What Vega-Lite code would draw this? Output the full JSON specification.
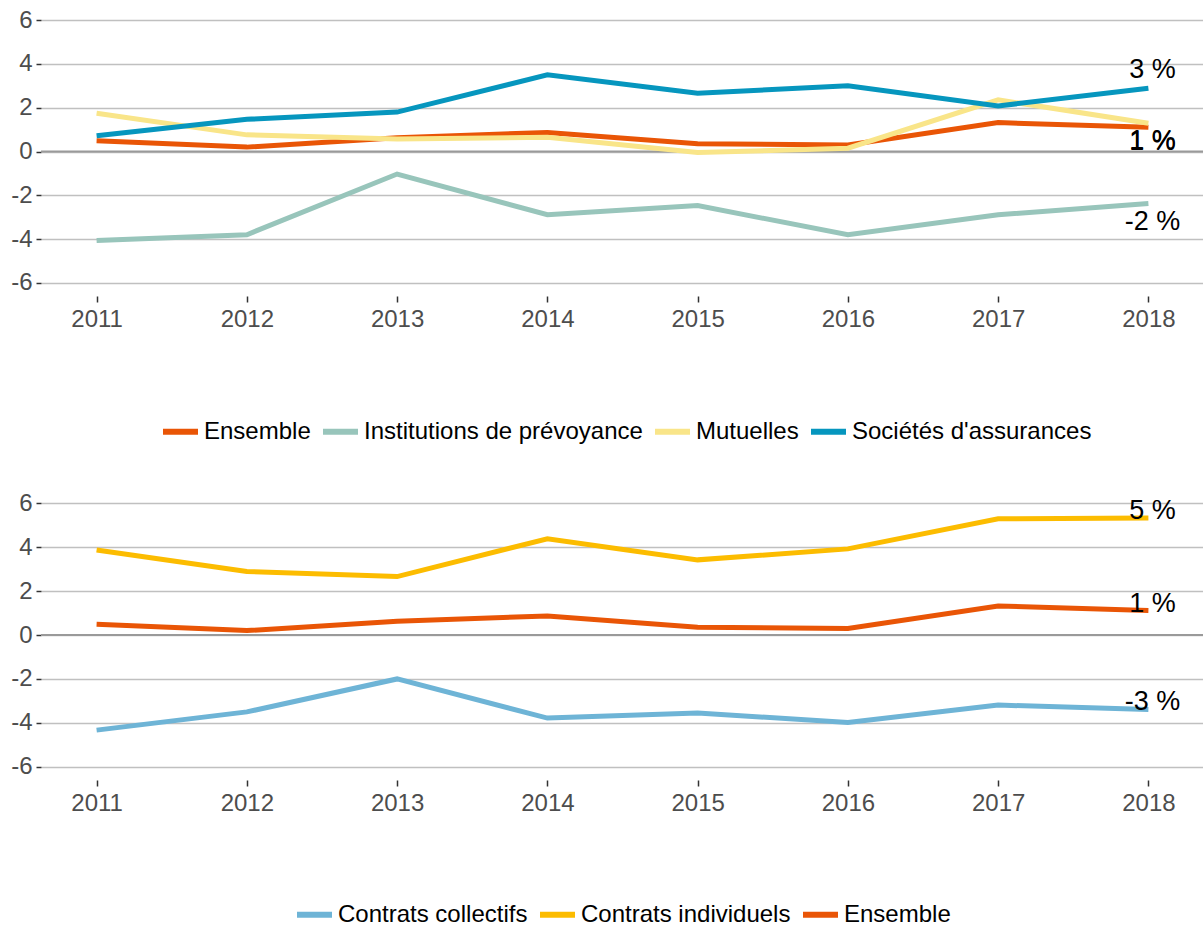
{
  "$schema": "https://vega.github.io/schema/vega-lite/v6.json",
  "padding": {"left": 10, "top": 7, "right": 0, "bottom": 0},
  "background": "white",
  "bounds": "flush",
  "spacing": 194,
  "config": {
    "view": {"stroke": null},
    "font": "Liberation Sans",
    "axis": {
      "labelFont": "Liberation Sans",
      "labelFontSize": 24,
      "labelColor": "#4d4d4d",
      "tickColor": "#333333",
      "tickWidth": 1.5,
      "domain": false,
      "title": null
    },
    "axisY": {"grid": true, "gridColor": "#c0c0c0", "gridWidth": 1.7, "tickSize": 5, "labelPadding": 4},
    "axisX": {"grid": false, "tickSize": 6, "labelPadding": 5},
    "legend": {
      "orient": "none",
      "direction": "horizontal",
      "title": null,
      "symbolType": "stroke",
      "symbolSize": 1225,
      "symbolStrokeWidth": 6,
      "labelFont": "Liberation Sans",
      "labelFontSize": 24,
      "labelColor": "#000000",
      "labelOffset": 3,
      "columnPadding": 0,
      "labelLimit": 400
    }
  },
  "datasets": {
    "top": [
      {"year": 2011, "serie": "Ensemble", "value": 0.49},
      {"year": 2012, "serie": "Ensemble", "value": 0.2},
      {"year": 2013, "serie": "Ensemble", "value": 0.63},
      {"year": 2014, "serie": "Ensemble", "value": 0.87},
      {"year": 2015, "serie": "Ensemble", "value": 0.35},
      {"year": 2016, "serie": "Ensemble", "value": 0.3},
      {"year": 2017, "serie": "Ensemble", "value": 1.32},
      {"year": 2018, "serie": "Ensemble", "value": 1.11, "label": "1 %"},
      {"year": 2011, "serie": "Institutions de prévoyance", "value": -4.06},
      {"year": 2012, "serie": "Institutions de prévoyance", "value": -3.8},
      {"year": 2013, "serie": "Institutions de prévoyance", "value": -1.03},
      {"year": 2014, "serie": "Institutions de prévoyance", "value": -2.89},
      {"year": 2015, "serie": "Institutions de prévoyance", "value": -2.47},
      {"year": 2016, "serie": "Institutions de prévoyance", "value": -3.8},
      {"year": 2017, "serie": "Institutions de prévoyance", "value": -2.89},
      {"year": 2018, "serie": "Institutions de prévoyance", "value": -2.38, "label": "-2 %"},
      {"year": 2011, "serie": "Mutuelles", "value": 1.75},
      {"year": 2012, "serie": "Mutuelles", "value": 0.76},
      {"year": 2013, "serie": "Mutuelles", "value": 0.57},
      {"year": 2014, "serie": "Mutuelles", "value": 0.65},
      {"year": 2015, "serie": "Mutuelles", "value": -0.05},
      {"year": 2016, "serie": "Mutuelles", "value": 0.15},
      {"year": 2017, "serie": "Mutuelles", "value": 2.36},
      {"year": 2018, "serie": "Mutuelles", "value": 1.29, "label": "1 %"},
      {"year": 2011, "serie": "Sociétés d'assurances", "value": 0.72},
      {"year": 2012, "serie": "Sociétés d'assurances", "value": 1.47},
      {"year": 2013, "serie": "Sociétés d'assurances", "value": 1.8},
      {"year": 2014, "serie": "Sociétés d'assurances", "value": 3.5},
      {"year": 2015, "serie": "Sociétés d'assurances", "value": 2.66},
      {"year": 2016, "serie": "Sociétés d'assurances", "value": 3.0},
      {"year": 2017, "serie": "Sociétés d'assurances", "value": 2.08},
      {"year": 2018, "serie": "Sociétés d'assurances", "value": 2.89, "label": "3 %"}
    ],
    "bottom": [
      {"year": 2011, "serie": "Contrats collectifs", "value": -4.33},
      {"year": 2012, "serie": "Contrats collectifs", "value": -3.5},
      {"year": 2013, "serie": "Contrats collectifs", "value": -2.0},
      {"year": 2014, "serie": "Contrats collectifs", "value": -3.78},
      {"year": 2015, "serie": "Contrats collectifs", "value": -3.55},
      {"year": 2016, "serie": "Contrats collectifs", "value": -3.98},
      {"year": 2017, "serie": "Contrats collectifs", "value": -3.19},
      {"year": 2018, "serie": "Contrats collectifs", "value": -3.39, "label": "-3 %"},
      {"year": 2011, "serie": "Contrats individuels", "value": 3.87},
      {"year": 2012, "serie": "Contrats individuels", "value": 2.89},
      {"year": 2013, "serie": "Contrats individuels", "value": 2.66},
      {"year": 2014, "serie": "Contrats individuels", "value": 4.38},
      {"year": 2015, "serie": "Contrats individuels", "value": 3.42},
      {"year": 2016, "serie": "Contrats individuels", "value": 3.92},
      {"year": 2017, "serie": "Contrats individuels", "value": 5.29},
      {"year": 2018, "serie": "Contrats individuels", "value": 5.32, "label": "5 %"},
      {"year": 2011, "serie": "Ensemble", "value": 0.49},
      {"year": 2012, "serie": "Ensemble", "value": 0.2},
      {"year": 2013, "serie": "Ensemble", "value": 0.63},
      {"year": 2014, "serie": "Ensemble", "value": 0.87},
      {"year": 2015, "serie": "Ensemble", "value": 0.35},
      {"year": 2016, "serie": "Ensemble", "value": 0.3},
      {"year": 2017, "serie": "Ensemble", "value": 1.32},
      {"year": 2018, "serie": "Ensemble", "value": 1.11, "label": "1 %"}
    ],
    "zero": [{"y": 0}]
  },
  "vconcat": [
    {
      "width": 1163,
      "height": 289,
      "encoding": {
        "x": {"field": "year", "type": "quantitative", "scale": {"domain": [2010.63, 2018.37], "nice": false, "zero": false}, "axis": {"values": [2011, 2012, 2013, 2014, 2015, 2016, 2017, 2018], "format": "d"}},
        "y": {"field": "value", "type": "quantitative", "scale": {"domain": [-6.6, 6.6], "nice": false}, "axis": {"values": [-6, -4, -2, 0, 2, 4, 6], "labelExpr": "datum.value < 0 ? '-' + abs(datum.value) : '' + datum.value"}}
      },
      "layer": [
        {
          "data": {"name": "zero"},
          "mark": {"type": "rule", "color": "#9a9a9a", "strokeWidth": 1.8},
          "encoding": {"y": {"field": "y", "type": "quantitative"}, "x": null}
        },
        {
          "data": {"name": "top"},
          "mark": {"type": "line", "strokeWidth": 5},
          "encoding": {
            "color": {"field": "serie", "type": "nominal",
              "scale": {"domain": ["Ensemble", "Institutions de prévoyance", "Mutuelles", "Sociétés d'assurances"], "range": ["#E95506", "#98C5BB", "#F9E589", "#0696BE"]},
              "legend": {"legendX": 119, "legendY": 404}}
          }
        },
        {
          "data": {"name": "top"},
          "transform": [{"filter": {"field": "serie", "equal": "Sociétés d'assurances"}}, {"filter": "isValid(datum.label)"}],
          "mark": {"type": "text", "fontSize": 27, "color": "#000000", "dx": 4, "dy": -18, "baseline": "middle", "align": "center"},
          "encoding": {"text": {"field": "label"}}
        },
        {
          "data": {"name": "top"},
          "transform": [{"filter": {"field": "serie", "equal": "Ensemble"}}, {"filter": "isValid(datum.label)"}],
          "mark": {"type": "text", "fontSize": 27, "color": "#000000", "dx": 4, "dy": 15, "baseline": "middle", "align": "center"},
          "encoding": {"text": {"field": "label"}}
        },
        {
          "data": {"name": "top"},
          "transform": [{"filter": {"field": "serie", "equal": "Mutuelles"}}, {"filter": "isValid(datum.label)"}],
          "mark": {"type": "text", "fontSize": 27, "color": "#000000", "dx": 4, "dy": 18, "baseline": "middle", "align": "center"},
          "encoding": {"text": {"field": "label"}}
        },
        {
          "data": {"name": "top"},
          "transform": [{"filter": {"field": "serie", "equal": "Institutions de prévoyance"}}, {"filter": "isValid(datum.label)"}],
          "mark": {"type": "text", "fontSize": 27, "color": "#000000", "dx": 4, "dy": 18, "baseline": "middle", "align": "center"},
          "encoding": {"text": {"field": "label"}}
        }
      ]
    },
    {
      "width": 1163,
      "height": 290,
      "encoding": {
        "x": {"field": "year", "type": "quantitative", "scale": {"domain": [2010.63, 2018.37], "nice": false, "zero": false}, "axis": {"values": [2011, 2012, 2013, 2014, 2015, 2016, 2017, 2018], "format": "d"}},
        "y": {"field": "value", "type": "quantitative", "scale": {"domain": [-6.6, 6.6], "nice": false}, "axis": {"values": [-6, -4, -2, 0, 2, 4, 6], "labelExpr": "datum.value < 0 ? '-' + abs(datum.value) : '' + datum.value"}}
      },
      "layer": [
        {
          "data": {"name": "zero"},
          "mark": {"type": "rule", "color": "#9a9a9a", "strokeWidth": 1.8},
          "encoding": {"y": {"field": "y", "type": "quantitative"}, "x": null}
        },
        {
          "data": {"name": "bottom"},
          "mark": {"type": "line", "strokeWidth": 5},
          "encoding": {
            "color": {"field": "serie", "type": "nominal",
              "scale": {"domain": ["Contrats collectifs", "Contrats individuels", "Ensemble"], "range": ["#6EB4D6", "#FCBC00", "#E95506"]},
              "legend": {"legendX": 253, "legendY": 404}}
          }
        },
        {
          "data": {"name": "bottom"},
          "transform": [{"filter": "isValid(datum.label)"}],
          "mark": {"type": "text", "fontSize": 27, "color": "#000000", "dx": 4, "dy": -7, "baseline": "middle", "align": "center"},
          "encoding": {"text": {"field": "label"}}
        }
      ]
    }
  ],
  "resolve": {"scale": {"color": "independent"}}
}
